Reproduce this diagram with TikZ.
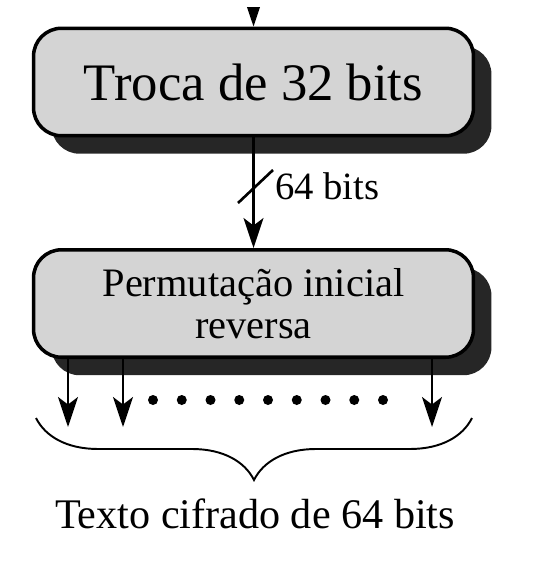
\documentclass[tikz,border=0pt]{standalone}
\usepackage{fontspec}
\setmainfont{Liberation Serif}
\usetikzlibrary{shadows,arrows.meta,decorations.pathreplacing}

\tikzset{
  stage/.style={draw, line width=2pt, rounded corners=0.56cm, fill=black!17,
    minimum width=8.8cm, minimum height=2.15cm, align=center, inner sep=0pt,
    drop shadow={shadow xshift=0.36cm, shadow yshift=-0.36cm, fill=black!85, opacity=1}},
  flow/.style={line width=1.3pt, -{Stealth[length=0.6cm, width=0.4cm, inset=0.15cm]}},
}

\begin{document}
\begin{tikzpicture}[x=0.02cm, y=-0.02cm]
\useasboundingbox (0,0) rectangle (543,581);
\clip (0,8) rectangle (543,581);

% Define nodes
\path (253.5,82)
node[stage, font=\fontsize{30}{32}\selectfont] (swap) {Troca de 32 bits}
(swap) +(0,-100) coordinate (in)
(swap) +(0,221.5) node[stage, font=\fontsize{23}{24}\selectfont] (ipinv)
{Permutação inicial\\reversa}
(swap) +(-15.5,121) coordinate (slash-a)
(swap) +(19.5,88) coordinate (slash-b)
(swap) +(21.5,117) node[anchor=base west, inner sep=0pt,
font=\fontsize{22}{24}\selectfont] (width) {64 bits}
(ipinv) +(-185.5,123.5) coordinate (out1)
(ipinv) +(-130.5,123.5) coordinate (out2)
(ipinv) +(178.5,123.5) coordinate (outn)
(ipinv) +(-217.5,114.5) coordinate (brace-l)
(ipinv) +(218.5,114.5) coordinate (brace-r)
(ipinv) +(1.5,210) node[font=\fontsize{24}{26}\selectfont] (cipher)
{Texto cifrado de 64 bits}
;

\draw[flow] (in) -- (swap);
\draw[flow] (swap) -- (ipinv);
\draw[line width=1.5pt] (slash-a) -- (slash-b);

\draw[flow] (ipinv.south -| out1) -- (out1);
\draw[flow] (ipinv.south -| out2) -- (out2);
\draw[flow] (ipinv.south -| outn) -- (outn);

\foreach \i in {0,...,8}
\fill (153+28.75*\i,400) circle (0.1cm);

% Output brace
\draw[line width=1.1pt, decorate, decoration={brace, mirror, amplitude=1.24cm}]
(brace-l) -- (brace-r);

\end{tikzpicture}
\end{document}
